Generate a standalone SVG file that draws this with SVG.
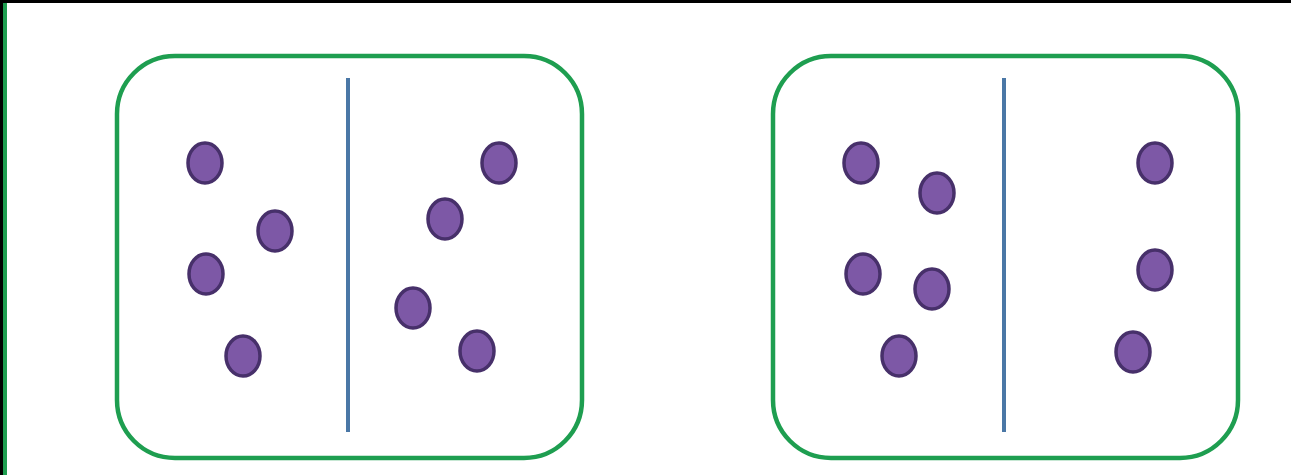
<svg xmlns="http://www.w3.org/2000/svg" width="1291" height="475" viewBox="0 0 1291 475">
<style>
.box{fill:none;stroke:#1e9e50;stroke-width:4.5}
.div{stroke:#4a77a6;stroke-width:4}
.dot{fill:#7d58a6;stroke:#47306a;stroke-width:3.5}
</style>
<rect x="0" y="0" width="1291" height="475" fill="#ffffff"/>
<rect x="0" y="0" width="1291" height="3" fill="#000000"/>
<rect x="0" y="0" width="3" height="475" fill="#000000"/>
<rect x="3" y="3" width="4" height="472" fill="#1e9e50"/>
<g id="panel1">
<rect class="box" x="117" y="56" width="465" height="402" rx="58"/>
<line class="div" x1="348" y1="78" x2="348" y2="432"/>
<ellipse class="dot" cx="205" cy="163" rx="17" ry="20"/>
<ellipse class="dot" cx="275" cy="231" rx="17" ry="20"/>
<ellipse class="dot" cx="206" cy="274" rx="17" ry="20"/>
<ellipse class="dot" cx="243" cy="356" rx="17" ry="20"/>
<ellipse class="dot" cx="499" cy="163" rx="17" ry="20"/>
<ellipse class="dot" cx="445" cy="219" rx="17" ry="20"/>
<ellipse class="dot" cx="413" cy="308" rx="17" ry="20"/>
<ellipse class="dot" cx="477" cy="351" rx="17" ry="20"/>
</g>
<g id="panel2">
<rect class="box" x="773" y="56" width="465" height="402" rx="58"/>
<line class="div" x1="1004" y1="78" x2="1004" y2="432"/>
<ellipse class="dot" cx="861" cy="163" rx="17" ry="20"/>
<ellipse class="dot" cx="937" cy="193" rx="17" ry="20"/>
<ellipse class="dot" cx="863" cy="274" rx="17" ry="20"/>
<ellipse class="dot" cx="932" cy="289" rx="17" ry="20"/>
<ellipse class="dot" cx="899" cy="356" rx="17" ry="20"/>
<ellipse class="dot" cx="1155" cy="163" rx="17" ry="20"/>
<ellipse class="dot" cx="1155" cy="270" rx="17" ry="20"/>
<ellipse class="dot" cx="1133" cy="352" rx="17" ry="20"/>
</g>
<g id="connectors"></g>
</svg>
